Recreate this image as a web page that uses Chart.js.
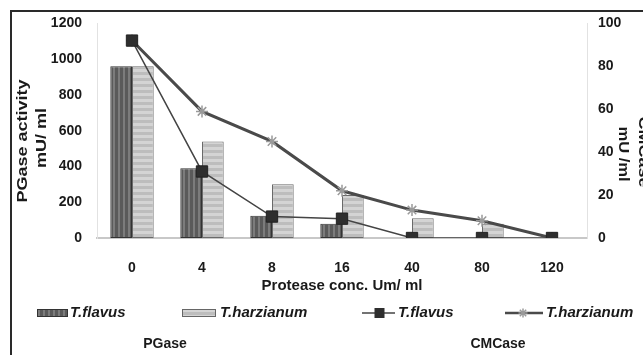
<!DOCTYPE html>
<html>
<head>
<meta charset="utf-8">
<script src="https://cdn.jsdelivr.net/npm/chart.js@4.4.1/dist/chart.umd.min.js"></script>
<style>
  html, body { margin: 0; padding: 0; background: #fff; overflow: hidden; }
  canvas { display: block; }
</style>
</head>
<body>
<canvas id="chart" width="643" height="355"></canvas>
<script>
// Protease concentrations (Um/ml) on the category axis
const concentrations = ['0', '4', '8', '16', '40', '80', '120'];

// PGase activity, mU/ml (bars, left axis)
const pgaseFlavus     = [960, 390, 125, 80, 0, 0, 0];
const pgaseHarzianum  = [960, 540, 300, 240, 110, 80, 0];

// CMCase activity, mU/ml (lines, right axis)
const cmcaseFlavus    = [92, 31, 10, 9, 0, 0, 0];
const cmcaseHarzianum = [92, 59, 45, 22, 13, 8, 0];

// Axis tick values
const pgaseTicks  = [0, 200, 400, 600, 800, 1000, 1200];
const cmcaseTicks = [0, 20, 40, 60, 80, 100];

const FONT = '"Liberation Sans", Arial, sans-serif';
const INK = '#1a1a1a';

function stripePattern(w, h, base, stripe, vertical) {
  const c = document.createElement('canvas');
  c.width = w; c.height = h;
  const g = c.getContext('2d');
  g.fillStyle = base;
  g.fillRect(0, 0, w, h);
  g.fillStyle = stripe;
  if (vertical) g.fillRect(0, 0, Math.ceil(w / 2), h);
  else g.fillRect(0, 0, w, Math.ceil(h / 2));
  return g.createPattern(c, 'repeat');
}

const darkFill  = stripePattern(5, 5, '#7c7c7c', '#5a5a5a', true);
const lightFill = stripePattern(4, 6, '#d4d4d4', '#bdbdbd', false);

function drawStar(ctx, x, y, r, color, width) {
  ctx.save();
  ctx.strokeStyle = color;
  ctx.lineWidth = width;
  ctx.beginPath();
  for (let i = 0; i < 4; i++) {
    const a = i * Math.PI / 4;
    ctx.moveTo(x - r * Math.cos(a), y - r * Math.sin(a));
    ctx.lineTo(x + r * Math.cos(a), y + r * Math.sin(a));
  }
  ctx.stroke();
  ctx.restore();
}

function rotatedText(ctx, text, x, y, angle, font, stretch) {
  ctx.save();
  ctx.translate(x, y);
  ctx.rotate(angle);
  ctx.scale(stretch, 1);
  ctx.font = font;
  ctx.fillStyle = INK;
  ctx.textAlign = 'center';
  ctx.textBaseline = 'middle';
  ctx.fillText(text, 0, 0);
  ctx.restore();
}

// Frame, axis titles and the grouped legend
const decorations = {
  id: 'decorations',
  beforeDraw(chart) {
    const ctx = chart.ctx;
    ctx.save();
    ctx.strokeStyle = '#2a2a2a';
    ctx.lineWidth = 2;
    ctx.beginPath();
    ctx.moveTo(11, 355);
    ctx.lineTo(11, 11);
    ctx.lineTo(643, 11);
    ctx.stroke();
    ctx.restore();
  },
  afterDraw(chart) {
    const ctx = chart.ctx;
    const titleFont = 'bold 15px ' + FONT;

    // left axis title
    rotatedText(ctx, 'PGase activity', 23, 141, -Math.PI / 2, titleFont, 1.2);
    rotatedText(ctx, 'mU/ ml', 42, 138, -Math.PI / 2, titleFont, 1.2);
    // right axis title
    rotatedText(ctx, 'mU /ml', 623, 154, Math.PI / 2, titleFont, 1.1);
    rotatedText(ctx, 'CMCase', 643, 152, Math.PI / 2, titleFont, 1.2);

    // legend row
    const ly = 313;
    ctx.save();
    ctx.lineWidth = 1;
    ctx.fillStyle = darkFill;
    ctx.fillRect(37, 309, 30, 7);
    ctx.strokeStyle = '#333';
    ctx.strokeRect(37.5, 309.5, 30, 7);
    ctx.fillStyle = lightFill;
    ctx.fillRect(182, 309, 33, 7);
    ctx.strokeStyle = '#666';
    ctx.strokeRect(182.5, 309.5, 33, 7);

    ctx.strokeStyle = '#444';
    ctx.lineWidth = 1.5;
    ctx.beginPath();
    ctx.moveTo(362, ly); ctx.lineTo(395, ly);
    ctx.stroke();
    ctx.fillStyle = '#2e2e2e';
    ctx.fillRect(374.5, ly - 5, 10, 10);

    ctx.strokeStyle = '#4a4a4a';
    ctx.lineWidth = 2.5;
    ctx.beginPath();
    ctx.moveTo(505, ly); ctx.lineTo(543, ly);
    ctx.stroke();
    drawStar(ctx, 523, ly, 4.5, '#9a9a9a', 1.5);

    ctx.fillStyle = INK;
    ctx.font = 'italic bold 15px ' + FONT;
    ctx.textAlign = 'left';
    ctx.textBaseline = 'middle';
    ctx.fillText('T.flavus', 70, ly);
    ctx.fillText('T.harzianum', 220, ly);
    ctx.fillText('T.flavus', 398, ly);
    ctx.fillText('T.harzianum', 546, ly);

    ctx.font = 'bold 14px ' + FONT;
    ctx.textAlign = 'center';
    ctx.fillText('PGase', 165, 344);
    ctx.fillText('CMCase', 498, 344);
    ctx.restore();
  }
};

const tickFont = { family: FONT, size: 14, weight: 'bold' };
const plainNumber = v => String(v);

new Chart(document.getElementById('chart'), {
  type: 'bar',
  data: {
    labels: concentrations,
    datasets: [
      {
        type: 'line',
        label: 'T.flavus CMCase',
        data: cmcaseFlavus,
        yAxisID: 'y1',
        borderColor: '#444',
        borderWidth: 1.5,
        pointStyle: 'rect',
        pointRadius: 8,
        pointBackgroundColor: '#2e2e2e',
        pointBorderColor: '#222',
        pointBorderWidth: 1,
        tension: 0,
        fill: false,
        order: 1
      },
      {
        type: 'line',
        label: 'T.harzianum CMCase',
        data: cmcaseHarzianum,
        yAxisID: 'y1',
        borderColor: '#4a4a4a',
        borderWidth: 3,
        pointStyle: 'star',
        pointRadius: 6,
        pointBackgroundColor: '#9a9a9a',
        pointBorderColor: '#9a9a9a',
        pointBorderWidth: 1.5,
        tension: 0,
        fill: false,
        order: 2
      },
      {
        label: 'T.flavus PGase',
        data: pgaseFlavus,
        yAxisID: 'y',
        backgroundColor: darkFill,
        borderColor: '#333',
        borderWidth: 1,
        borderSkipped: false,
        categoryPercentage: 0.62,
        barPercentage: 1,
        order: 3
      },
      {
        label: 'T.harzianum PGase',
        data: pgaseHarzianum,
        yAxisID: 'y',
        backgroundColor: lightFill,
        borderColor: '#6a6a6a',
        borderWidth: 1,
        borderSkipped: false,
        categoryPercentage: 0.62,
        barPercentage: 1,
        order: 3
      }
    ]
  },
  options: {
    responsive: false,
    animation: false,
    events: [],
    layout: { padding: { left: 0, right: 0, top: 22, bottom: 60 } },
    plugins: {
      legend: { display: false },
      tooltip: { enabled: false }
    },
    scales: {
      x: {
        offset: true,
        grid: { display: false, drawTicks: false },
        border: { display: true, color: '#c8c8c8', width: 2 },
        ticks: { padding: 22, color: INK, font: tickFont, maxRotation: 0 },
        title: {
          display: true,
          text: 'Protease conc. Um/ ml',
          color: INK,
          padding: { top: 0, bottom: 0 },
          font: { family: FONT, size: 15, weight: 'bold' }
        },
        afterFit(scale) { scale.height = 57; }
      },
      y: {
        position: 'left',
        min: 0,
        max: 1200,
        afterBuildTicks(scale) { scale.ticks = pgaseTicks.map(v => ({ value: v })); },
        grid: { display: false, drawTicks: false },
        border: { display: true, color: '#e2e2e2', width: 1 },
        ticks: { padding: 15, color: INK, font: tickFont, callback: plainNumber },
        afterFit(scale) { scale.width = 97; }
      },
      y1: {
        position: 'right',
        min: 0,
        max: 100,
        afterBuildTicks(scale) { scale.ticks = cmcaseTicks.map(v => ({ value: v })); },
        grid: { display: false, drawTicks: false },
        border: { display: true, color: '#e2e2e2', width: 1 },
        ticks: { padding: 11, color: INK, font: tickFont, callback: plainNumber },
        afterFit(scale) { scale.width = 56; }
      }
    }
  },
  plugins: [decorations]
});
</script>
</body>
</html>
